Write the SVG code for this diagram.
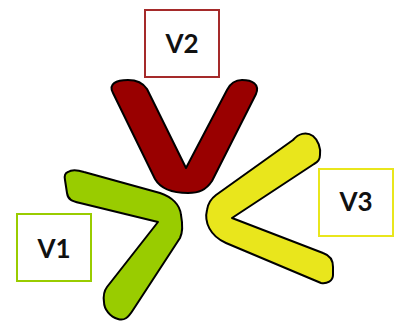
<svg xmlns="http://www.w3.org/2000/svg" width="394" height="324" viewBox="0 0 394 324">
<style>
.shape{stroke:#000;stroke-width:2;stroke-linejoin:round}
.box{fill:#fff;stroke-width:2}
.lbl{font-family:Lato,"Liberation Sans",sans-serif;font-weight:bold;font-size:26px;fill:#111;text-anchor:middle}
</style>
<rect width="394" height="324" fill="#fff"/>
<g id="connectors">
<path id="arrow-v2" class="shape" fill="#990000" d="M 113,93 C 108,84 116,80 128,80 C 138,80 143,83 147,89 L 186,168 L 227,90 C 231,82 236,80 242,80 C 252,80 260,84 256,94 L 212,181 C 206,190 199,193 188,193 C 176,193 162,191 155,179 Z"/>
<path id="arrow-v1" class="shape" fill="#99cc00" d="M 68,172 C 72,169 78,170 84,172 L 160,193 C 172,197 180,205 181,215 C 183,226 183,232 180,238 L 133,310 C 128,318 124,321 118,319 C 110,317 104,309 104,302 C 103,295 104,291 107,287 L 158,222 L 80,203 C 72,201 68,200 67,193 L 65,180 C 64,175 65,173 68,172 Z"/>
<path id="arrow-v3" class="shape" fill="#e9e61c" d="M 293,140 C 298,134 306,131 313,136 C 318,140 321,148 320,155 C 320,159 318,162 314,164 L 232,218 L 323,253 C 329,255 333,260 333,267 L 333,275 C 333,281 327,284 321,283 L 226,243 C 210,236 204,222 207,210 C 208,203 212,198 216,195 Z"/>
</g>
<g id="V2">
<rect class="box" x="145" y="10" width="74" height="67" stroke="#a52a2a"/>
<text class="lbl" x="182" y="53">V2</text>
</g>
<g id="V1">
<rect class="box" x="17" y="214" width="74" height="67" stroke="#99cc00"/>
<text class="lbl" x="54" y="258">V1</text>
</g>
<g id="V3">
<rect class="box" x="319" y="169" width="74" height="67" stroke="#e9e61c"/>
<text class="lbl" x="356" y="211">V3</text>
</g>
</svg>
